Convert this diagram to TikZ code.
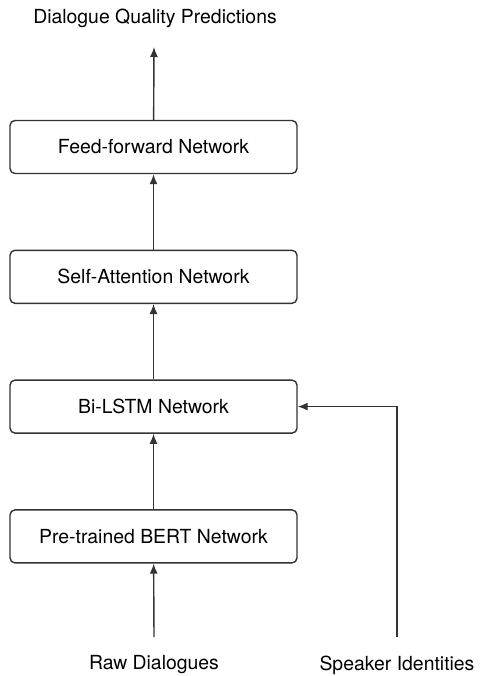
\documentclass[tikz,border=0pt]{standalone}
\usepackage{fontspec}
\setmainfont{TeX Gyre Heros}
\usetikzlibrary{arrows.meta}
\usetikzlibrary{positioning}

\tikzset{
	netbox/.style={draw=black!80, line width=0.7pt, rounded corners=2.5pt,
		minimum width=143.5pt, minimum height=26.5pt, font=\fontsize{9.7}{11}\selectfont},
	lbl/.style={font=\fontsize{9.7}{11}\selectfont, inner sep=0pt},
	flow/.style={draw=black!80, line width=0.7pt, -{Latex[length=5pt,width=4pt]}}
}

\begin{document}
\begin{tikzpicture}[x=0.5pt,y=-0.5pt]
		\useasboundingbox (0,0) rectangle (480,676);
		% network stack
		\node[netbox] (ffn) at (153.5,147) {Feed-forward Network};
		\node[netbox, below=37.7pt of ffn] (att) {Self-Attention Network};
		\node[netbox, below=37.7pt of att] (lstm) {Bi-LSTM Network};
		\node[netbox, below=37.7pt of lstm] (bert) {Pre-trained BERT Network};
		% inputs and output
		\node[lbl] (out) at (155,18) {Dialogue Quality Predictions};
		\node[lbl] (raw) at (154,665) {Raw Dialogues};
		\node[lbl] (spk) at (397,665) {Speaker Identities};
		\coordinate (outend) at (154,47);
		\coordinate (rawstart) at (154,637);
		\coordinate (spkstart) at (397,637);
		% connectors
		\draw[flow] (rawstart) -- (bert);
		\draw[flow] (bert) -- (lstm);
		\draw[flow] (lstm) -- (att);
		\draw[flow] (att) -- (ffn);
		\draw[flow] (ffn) -- (outend);
		\draw[flow] (spkstart) |- (lstm.east);
	\end{tikzpicture}
\end{document}
